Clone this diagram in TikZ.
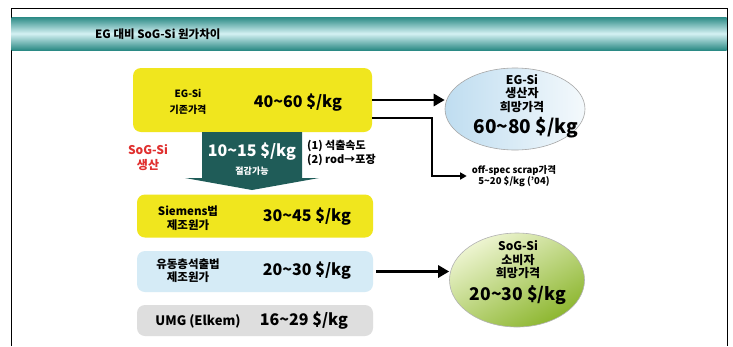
\documentclass[tikz,border=0pt]{standalone}
\usepackage{fontspec}
\setmainfont{Noto Sans CJK KR}
\usetikzlibrary{arrows.meta,shapes.geometric,positioning}
\definecolor{hdark}{HTML}{2B8A85}
\definecolor{hlight}{HTML}{D4F1F3}
\definecolor{byellow}{HTML}{F0E61E}
\definecolor{bblue}{HTML}{D5EBF6}
\definecolor{bgray}{HTML}{DEDEDE}
\definecolor{tealarrow}{HTML}{1F5C58}
\definecolor{redtxt}{HTML}{E0302F}
\definecolor{e1a}{HTML}{BFDDF0}
\definecolor{e1b}{HTML}{F4F9FC}
\definecolor{e2a}{HTML}{8CB62E}
\definecolor{e2b}{HTML}{EEF5D2}
\tikzset{
  pbox/.style={rounded corners=8pt, draw=none, inner sep=0pt},
  lbl/.style={font=\bfseries\fontsize{10}{16}\selectfont, align=center, inner sep=0pt},
  lblb/.style={font=\bfseries\fontsize{11.5}{13.5}\selectfont, align=center, inner sep=0pt},
  val/.style={font=\bfseries\fontsize{16}{18}\selectfont, inner sep=0pt},
  elbl/.style={font=\bfseries\fontsize{12}{13.5}\selectfont, align=center, inner sep=0pt},
  thickarrow/.style={line width=2.8pt, -{Triangle[length=11pt,width=12pt]}},
  thinarrow/.style={line width=1.5pt, -{Triangle[length=6.5pt,width=7pt]}},
}
\begin{document}
\begin{tikzpicture}[x=1pt,y=-1pt]
\useasboundingbox (0,0) rectangle (733,346);
\fill[white] (0,0) rectangle (733,346);
% frame
\draw[line width=1pt] (11,346) -- (11,8) -- (727,8) -- (727,346);
% header bar
\shade[top color=hdark, bottom color=hdark, middle color=hlight] (11.5,17) rectangle (726.5,50);
\node[font=\bfseries\fontsize{11.5}{13}\selectfont, anchor=west, inner sep=0pt] (title) at (95,34) {EG 대비 SoG-Si 원가차이};

% yellow box 1
\node[pbox, fill=byellow, minimum width=239pt, minimum height=64pt] (b1) at (252.5,100) {};
\node[lbl] (b1l) at (188,101.5) {EG-Si\\기존가격};
\node[val] (b1v) at (298,103) {40\textasciitilde60 \$/kg};

% teal down arrow
\fill[tealarrow] (202,132) -- (302,132) -- (302,178) -- (319,178) -- (252,190) -- (185,178) -- (202,178) -- cycle;
\node[val, text=white] (cut) at (252,152) {10\textasciitilde15 \$/kg};
\node[font=\bfseries\fontsize{9}{10}\selectfont, text=white, inner sep=0pt] (cutl) at (252,171) {절감가능};
\node[font=\bfseries\fontsize{12}{15}\selectfont, text=redtxt, align=center, inner sep=0pt] (sog) at (148,158) {SoG-Si\\생산};
\node[font=\bfseries\fontsize{11}{14}\selectfont, align=left, anchor=west, inner sep=0pt] (reasons) at (307,153) {(1) 석출속도\\(2) rod→포장};

% box 2
\node[pbox, fill=byellow, minimum width=236pt, minimum height=43pt] (b2) at (255,216) {};
\node[lblb] (b2l) at (188,218) {Siemens법\\제조원가};
\node[val] (b2v) at (307,217) {30\textasciitilde45 \$/kg};

% box 3
\node[pbox, fill=bblue, minimum width=236pt, minimum height=41pt] (b3) at (255,271.5) {};
\node[lblb] (b3l) at (188,270.5) {유동층석출법\\제조원가};
\node[val] (b3v) at (307,271) {20\textasciitilde30 \$/kg};

% box 4
\node[pbox, fill=bgray, minimum width=236pt, minimum height=31pt] (b4) at (255,320.5) {};
\node[font=\bfseries\fontsize{13}{15}\selectfont, inner sep=0pt] (b4l) at (198,321) {UMG (Elkem)};
\node[val] (b4v) at (304,321) {16\textasciitilde29 \$/kg};

% ellipse 1
\node[ellipse, draw=gray!70, line width=0.6pt, left color=e1a, right color=e1b, minimum width=140pt, minimum height=82pt] (e1) at (515,109) {};
\node[elbl] (e1l) at (522,93.5) {EG-Si\\생산자\\희망가격};
\node[font=\bfseries\fontsize{19}{20}\selectfont, inner sep=0pt] (e1v) at (526,128) {60\textasciitilde80 \$/kg};

% ellipse 2
\node[ellipse, draw=gray!60, line width=0.6pt, bottom color=e2a, top color=e2b, shading angle=30, minimum width=135pt, minimum height=94pt] (e2) at (517,280) {};
\node[elbl] (e2l) at (518,260) {SoG-Si\\소비자\\희망가격};
\node[font=\bfseries\fontsize{17.5}{19}\selectfont, inner sep=0pt] (e2v) at (518,295) {20\textasciitilde30 \$/kg};

% scrap label
\node[font=\bfseries\fontsize{9.5}{11.5}\selectfont, align=center, inner sep=0pt] (scrap) at (514,176) {off-spec scrap가격\\5\textasciitilde20 \$/kg ('04)};

% connectors
\draw[thickarrow] (b1.east) -- (e1.west |- b1.east);
\draw[thinarrow] ([yshift=-18pt]b1.east) -- ++(60,0) |- ([xshift=-5pt]scrap.west);
\draw[thickarrow] ([xshift=3pt]b3.east) -- (e2.west |- b3.east);
\end{tikzpicture}
\end{document}
